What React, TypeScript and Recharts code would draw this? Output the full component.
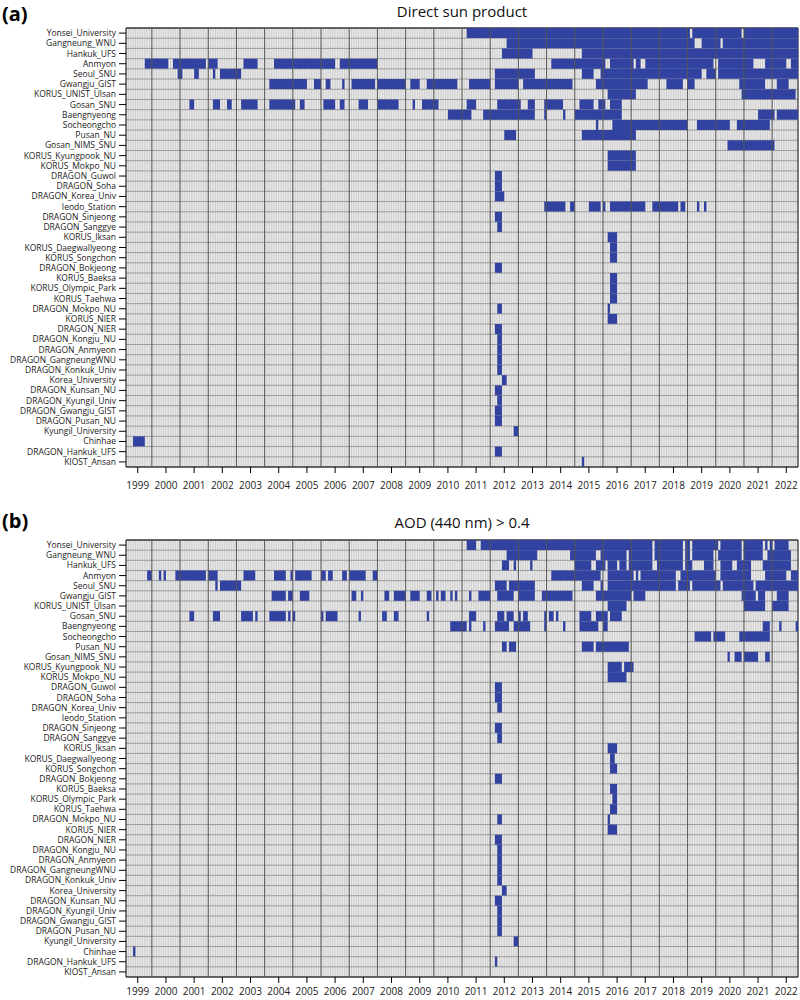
import React from 'react';
import {
  ComposedChart, Bar, XAxis, YAxis, CartesianGrid, ReferenceLine, ReferenceArea,
} from 'recharts';

// station order, top to bottom
const STATIONS = [
  'Yonsei_University', 'Gangneung_WNU', 'Hankuk_UFS', 'Anmyon', 'Seoul_SNU',
  'Gwangju_GIST', 'KORUS_UNIST_Ulsan', 'Gosan_SNU', 'Baengnyeong', 'Socheongcho',
  'Pusan_NU', 'Gosan_NIMS_SNU', 'KORUS_Kyungpook_NU', 'KORUS_Mokpo_NU', 'DRAGON_Guwol',
  'DRAGON_Soha', 'DRAGON_Korea_Univ', 'Ieodo_Station', 'DRAGON_Sinjeong', 'DRAGON_Sanggye',
  'KORUS_Iksan', 'KORUS_Daegwallyeong', 'KORUS_Songchon', 'DRAGON_Bokjeong', 'KORUS_Baeksa',
  'KORUS_Olympic_Park', 'KORUS_Taehwa', 'DRAGON_Mokpo_NU', 'KORUS_NIER', 'DRAGON_NIER',
  'DRAGON_Kongju_NU', 'DRAGON_Anmyeon', 'DRAGON_GangneungWNU', 'DRAGON_Konkuk_Univ', 'Korea_University',
  'DRAGON_Kunsan_NU', 'DRAGON_Kyungil_Univ', 'DRAGON_Gwangju_GIST', 'DRAGON_Pusan_NU', 'Kyungil_University',
  'Chinhae', 'DRAGON_Hankuk_UFS', 'KIOST_Ansan',
];

const YEAR_LABELS = [
  '1999', '2000', '2001', '2002', '2003', '2004', '2005', '2006', '2007', '2008', '2009', '2010',
  '2011', '2012', '2013', '2014', '2015', '2016', '2017', '2018', '2019', '2020', '2021', '2022',
];

// months with data, "start/end" inclusive (or a single month)
const DIRECT_SUN: string[][] = [
  ['2011-03/2019-01', '2019-03/2020-11', '2021-01/2022-11'],
  ['2012-08/2019-03', '2019-07/2020-02', '2020-04/2022-11'],
  ['2012-06/2013-06', '2015-04/2022-11'],
  ['1999-10/2000-07', '2000-10/2001-11', '2002-01/2002-04', '2003-04/2003-09', '2004-05/2006-06', '2006-09/2007-12',
    '2014-03/2016-01', '2016-04/2017-01', '2017-03/2017-04', '2017-07/2019-11', '2020-02/2021-04', '2021-10/2022-06', '2022-09/2022-11'],
  ['2000-12/2001-01', '2001-07/2001-08', '2002-03', '2002-06/2003-02', '2012-03/2013-07', '2015-04/2015-08',
    '2015-12/2019-06', '2019-09/2019-12', '2020-02/2022-11'],
  ['2004-03/2005-06', '2005-10/2005-12', '2006-03/2006-04', '2006-10', '2007-02/2007-11', '2008-01/2008-12',
    '2009-03/2009-06', '2009-10/2010-10', '2011-04/2011-12', '2012-03/2012-12', '2013-03/2014-11', '2015-10/2017-07',
    '2018-04/2018-10', '2019-01/2019-03', '2020-11/2021-09', '2022-03/2022-07'],
  ['2016-03/2017-02', '2020-12/2022-10'],
  ['2001-05/2001-06', '2002-03/2002-05', '2002-09/2002-10', '2003-03/2003-09', '2004-03/2005-01', '2005-04/2005-05',
    '2006-02/2006-06', '2006-09/2006-10', '2007-05/2007-08', '2008-01/2008-09', '2009-04', '2009-08/2010-02',
    '2011-03/2011-06', '2012-04/2013-01', '2013-05/2013-07', '2013-12/2014-07', '2015-03/2015-08', '2015-11/2016-01', '2016-04/2016-08'],
  ['2010-07/2011-04', '2011-10/2013-07', '2013-12', '2014-08', '2015-01/2016-08', '2021-07/2022-01', '2022-03/2022-11'],
  ['2015-10', '2016-05/2018-12', '2019-05/2020-06', '2020-10/2021-11'],
  ['2012-07/2012-11', '2015-04/2017-02'],
  ['2020-06/2022-01'],
  ['2016-03/2017-02'],
  ['2016-03/2017-02'],
  ['2012-03/2012-05'],
  ['2012-03/2012-05'],
  ['2012-03/2012-06'],
  ['2013-12/2014-08', '2014-11/2014-12', '2015-07/2015-11', '2016-01', '2016-04/2017-06', '2017-10/2018-08',
    '2018-10/2018-11', '2019-05', '2019-08'],
  ['2012-03/2012-05'],
  ['2012-04/2012-05'],
  ['2016-03/2016-06'],
  ['2016-04/2016-06'],
  ['2016-04/2016-06'],
  ['2012-03/2012-05'],
  ['2016-04/2016-06'],
  ['2016-04/2016-06'],
  ['2016-04/2016-06'],
  ['2012-04/2012-05', '2016-03'],
  ['2016-03/2016-06'],
  ['2012-03/2012-05'],
  ['2012-04/2012-05'],
  ['2012-04/2012-05'],
  ['2012-04/2012-05'],
  ['2012-04/2012-05'],
  ['2012-06/2012-07'],
  ['2012-03/2012-05'],
  ['2012-04/2012-05'],
  ['2012-03/2012-05'],
  ['2012-03/2012-05'],
  ['2012-11/2012-12'],
  ['1999-05/1999-09'],
  ['2012-03/2012-05'],
  ['2015-04'],
];

const AOD_HIGH: string[][] = [
  ['2011-03/2011-06', '2011-09/2017-09', '2017-11/2018-10', '2018-12/2019-01', '2019-03/2020-01', '2020-03/2020-11',
    '2021-01/2021-08', '2021-10', '2021-12', '2022-02/2022-07'],
  ['2012-08/2013-08', '2014-11/2015-09', '2015-12/2016-10', '2016-12/2017-09', '2017-11/2018-10', '2018-12/2019-01',
    '2019-03/2019-11', '2020-02/2020-11', '2021-01/2021-08', '2021-11/2022-08'],
  ['2012-06/2012-08', '2012-11', '2013-06', '2015-01/2015-07', '2015-10/2016-01', '2016-03/2016-06', '2016-08/2016-10',
    '2016-12/2017-09', '2017-12/2018-10', '2018-12/2019-02', '2019-08/2019-11', '2020-03/2020-07', '2020-10/2021-03', '2021-09/2022-08'],
  ['1999-11/1999-12', '2000-04', '2000-06', '2000-11/2001-11', '2002-01/2002-04', '2003-04/2003-08', '2004-05/2004-09',
    '2004-12', '2005-02/2005-08', '2006-01/2006-02', '2006-04/2006-05', '2006-10/2006-11', '2007-01/2007-07', '2007-11/2007-12',
    '2014-03/2015-11', '2016-03/2017-01', '2017-03', '2017-05/2018-07', '2018-10/2019-12', '2020-03/2021-03',
    '2021-10/2022-06', '2022-09/2022-11'],
  ['2002-04', '2002-06/2003-02', '2012-03/2012-07', '2012-09/2013-07', '2015-04/2015-08', '2015-12', '2016-03/2018-07',
    '2018-09/2019-01', '2019-03/2020-02', '2020-04/2021-04', '2021-06/2022-11'],
  ['2004-04/2004-09', '2004-11/2004-12', '2005-04/2005-07', '2007-02/2007-03', '2007-06', '2008-04/2008-05', '2008-08/2008-12',
    '2009-03/2009-06', '2009-10/2009-11', '2010-02', '2010-04/2010-05', '2010-08', '2010-10', '2011-04', '2011-08/2011-12',
    '2012-04/2012-10', '2013-01/2013-07', '2013-11/2014-11', '2015-10/2016-12', '2017-02/2017-06', '2020-12/2021-05',
    '2021-07/2021-09', '2022-03/2022-07'],
  ['2016-03/2016-10', '2021-01/2021-09', '2022-01/2022-07'],
  ['2001-05/2001-06', '2002-03/2002-05', '2003-03/2003-07', '2003-09', '2004-03/2004-09', '2004-11', '2005-01', '2006-01',
    '2006-03/2006-07', '2007-05', '2008-03/2008-04', '2008-08/2008-09', '2009-10', '2011-04/2011-06', '2012-04/2012-06',
    '2012-08/2012-10', '2013-01', '2013-03/2013-04', '2013-12', '2014-02/2014-03', '2014-05', '2015-03/2015-07',
    '2015-10/2016-02', '2016-04/2016-08'],
  ['2010-08/2011-02', '2011-04', '2011-10', '2012-03/2012-08', '2012-11/2013-05', '2013-12', '2014-08', '2015-03/2015-10',
    '2016-01/2016-02', '2021-09/2021-11', '2022-04', '2022-11'],
  ['2019-04/2019-10', '2019-12/2020-04', '2020-11/2021-11'],
  ['2012-06/2012-07', '2012-09/2012-11', '2015-04/2015-08', '2015-10/2016-11'],
  ['2020-06', '2020-09/2020-11', '2021-01/2021-06', '2021-10/2021-11'],
  ['2016-03/2016-08', '2016-10/2017-01'],
  ['2016-03/2016-10'],
  ['2012-03/2012-05'],
  ['2012-03/2012-05'],
  ['2012-04/2012-05'],
  [],
  ['2012-03/2012-05'],
  ['2012-04/2012-05'],
  ['2016-03/2016-06'],
  ['2016-04/2016-05'],
  ['2016-04/2016-06'],
  ['2012-03/2012-05'],
  ['2016-04/2016-06'],
  ['2016-05/2016-06'],
  ['2016-04/2016-06'],
  ['2012-04/2012-05', '2016-03'],
  ['2016-03/2016-06'],
  ['2012-03/2012-05'],
  ['2012-04/2012-05'],
  ['2012-04/2012-05'],
  ['2012-04/2012-05'],
  ['2012-04/2012-05'],
  ['2012-06/2012-07'],
  ['2012-03/2012-05'],
  ['2012-04/2012-05'],
  ['2012-04/2012-05'],
  ['2012-04/2012-05'],
  ['2012-11/2012-12'],
  ['1999-05'],
  ['2012-03'],
  [],
];

// axis runs Feb 1999 .. Nov 2022
const X_START = 1999 + 1 / 12;
const X_END = 2022 + 11 / 12;

const BLUE = '#3142a0';
const FONT = '"Open Sans", sans-serif';

const toYear = (s: string, end: boolean) => {
  const [y, m] = s.split('-').map(Number);
  return y + (end ? m : m - 1) / 12;
};

const toRows = (segs: string[][]) =>
  segs.flatMap((list, i) =>
    list.map((seg) => {
      const [a, b] = seg.split('/');
      return { row: i + 0.5, span: [toYear(a, false), toYear(b ?? a, true)] };
    }),
  );

const ROW_TICKS = STATIONS.map((_, i) => i + 0.5);
const ROW_EDGES = [...STATIONS.map((_, i) => i), STATIONS.length];
const YEAR_TICKS = YEAR_LABELS.map((y) => Number(y) + 0.5);
const YEAR_EDGES = YEAR_LABELS.slice(1).map(Number);
const MONTH_EDGES: number[] = [];
for (let k = 1; X_START + k / 12 < X_END - 1e-6; k++) MONTH_EDGES.push(X_START + k / 12);

const callScale = (axis: any, v: number) => {
  const s = axis?.scale;
  if (!s) return NaN;
  return typeof s === 'function' ? s(v) : s.map(v);
};

function Panel({ segs, height, plotH, labelGap }: { segs: string[][]; height: number; plotH: number; labelGap: number }) {
  const rows = toRows(segs);
  return (
    <ComposedChart
      width={800}
      height={height}
      data={rows}
      layout="vertical"
      margin={{ top: 28, right: 2, bottom: 0, left: 6 }}
      barCategoryGap={0}
    >
      <CartesianGrid
        horizontal={false}
        fill="#e8e8e8"
        stroke="#c3c3c3"
        strokeWidth={0.7}
        verticalCoordinatesGenerator={({ xAxis }: any) => MONTH_EDGES.map((m) => callScale(xAxis, m))}
      />
      <CartesianGrid
        vertical={false}
        stroke="#8c8c8c"
        strokeWidth={0.8}
        horizontalCoordinatesGenerator={({ yAxis }: any) => ROW_EDGES.map((r) => callScale(yAxis, r))}
      />
      <XAxis
        type="number"
        domain={[X_START, X_END]}
        allowDataOverflow
        ticks={YEAR_TICKS}
        interval={0}
        tickFormatter={(v: number) => String(Math.floor(v))}
        height={height - 28 - plotH}
        tickSize={6}
        tickMargin={labelGap}
        axisLine={false}
        tickLine={{ stroke: '#000' }}
        tick={{ fontSize: 10, fill: '#222', fontFamily: FONT }}
      />
      <YAxis
        type="number"
        dataKey="row"
        domain={[0, STATIONS.length]}
        allowDataOverflow
        ticks={ROW_TICKS}
        interval={0}
        tickFormatter={(v: number) => STATIONS[Math.floor(v)]}
        width={120}
        tickSize={7}
        tickMargin={3}
        axisLine={false}
        tickLine={{ stroke: '#000' }}
        tick={{ fontSize: 8.5, fill: '#222', fontFamily: FONT }}
      />
      <Bar dataKey="span" fill={BLUE} barSize={10} isAnimationActive={false} />
      {YEAR_EDGES.map((y) => (
        <ReferenceLine key={y} x={y} stroke="#555" strokeWidth={1} />
      ))}
      <ReferenceArea x1={X_START} x2={X_END} y1={0} y2={STATIONS.length} fill="none" stroke="#000" strokeWidth={1} />
    </ComposedChart>
  );
}

export default function App() {
  return (
    <div style={{ position: 'absolute', left: 0, top: 0, width: 800, height: 1000, overflow: 'hidden', background: '#fff' }}>
      <div style={{ position: 'absolute', left: 0, top: 0 }}>
        <Panel segs={DIRECT_SUN} height={500} plotH={439} labelGap={9} />
      </div>
      <div style={{ position: 'absolute', left: 0, top: 512 }}>
        <Panel segs={AOD_HIGH} height={488} plotH={437} labelGap={5} />
      </div>
      <svg width={800} height={1000} style={{ position: 'absolute', left: 0, top: 0, pointerEvents: 'none' }}>
        <text x={2} y={21} fontSize={20} fontWeight={700} fontFamily={FONT} fill="#000">(a)</text>
        <text x={462} y={17} fontSize={15} textAnchor="middle" fontFamily={FONT} fill="#111">Direct sun product</text>
        <text x={2} y={528} fontSize={20} fontWeight={700} fontFamily={FONT} fill="#000">(b)</text>
        <text x={462} y={528} fontSize={15} textAnchor="middle" fontFamily={FONT} fill="#111">AOD (440 nm) &gt; 0.4</text>
      </svg>
    </div>
  );
}
